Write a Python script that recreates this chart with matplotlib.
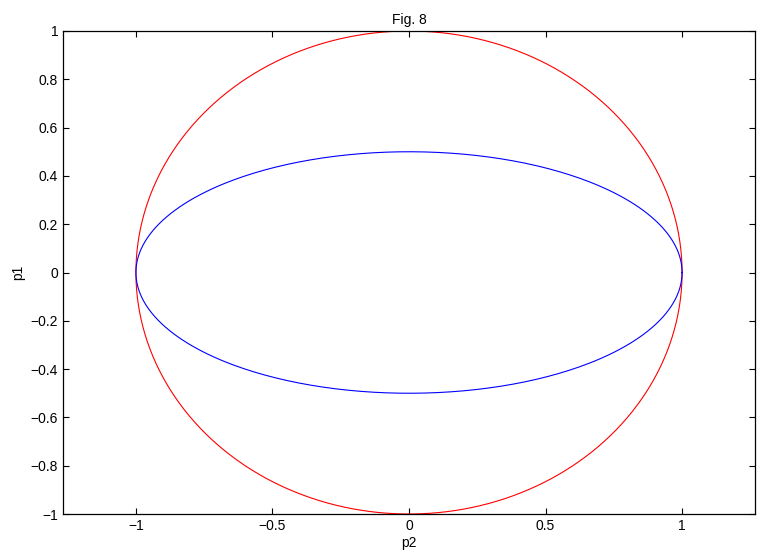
import numpy as np
import matplotlib
matplotlib.use('Agg')
import matplotlib.pyplot as plt

plt.rcParams['font.family'] = ['Liberation Sans', 'DejaVu Sans']

# semi-axes of the two curves (along p2, along p1)
curvas = ['circulo', 'elipse']
raio_p2 = [1.0, 1.0]
raio_p1 = [1.0, 0.5]
cores = ['#ff0000', '#0000ff']

xticks = [-1, -0.5, 0, 0.5, 1]
yticks = [-1, -0.8, -0.6, -0.4, -0.2, 0, 0.2, 0.4, 0.6, 0.8, 1]

fig = plt.figure(figsize=(7.61, 5.54), dpi=100)
ax = fig.add_axes([63/761, 40/554, 692/761, 483/554])

t = np.linspace(0, 2*np.pi, 400)
for nome, a, b, c in zip(curvas, raio_p2, raio_p1, cores):
    ax.plot(a*np.cos(t), b*np.sin(t), color=c, lw=0.8, label=nome)

ax.set_xlim(-1.267, 1.267)
ax.set_ylim(-1, 1)
ax.set_xticks(xticks)
ax.set_yticks(yticks)
ax.set_xticklabels([f'{v:g}'.replace('-', '\u2212') for v in xticks])
ax.set_yticklabels([f'{v:g}'.replace('-', '\u2212') for v in yticks])
ax.tick_params(direction='in', top=True, right=True, length=4, width=0.8, labelsize=10)
for s in ax.spines.values():
    s.set_linewidth(0.9)
ax.set_xlabel('p2', fontsize=10, labelpad=2)
ax.set_ylabel('p1', fontsize=10, labelpad=4)
ax.set_title('Fig. 8', fontsize=10, pad=5)

plt.savefig('out.png', dpi=100)
